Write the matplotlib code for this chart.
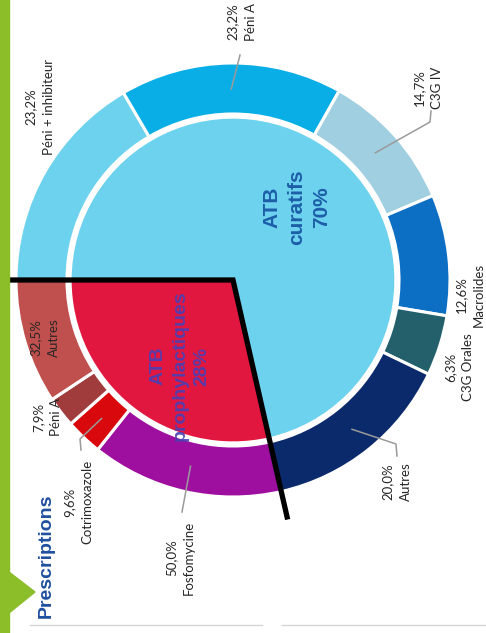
import matplotlib.pyplot as plt
from matplotlib.patches import Polygon
import numpy as np

# inner pie: the two kinds of prescriptions
group_labels = ['ATB\ncuratifs\n70%', 'ATB\nprophylactiques\n28%']
group_pct = [70, 28]
group_colors = ['#6dd2ee', '#e2173f']
group_text_colors = ['#1d5ea8', '#4a3fb4']

# outer ring, curative antibiotics (% of curative)
cur_names = ['Péni + inhibiteur', 'Péni A', 'C3G IV', 'Macrolides', 'C3G Orales', 'Autres']
cur_pct = [23.2, 23.2, 14.7, 12.6, 6.3, 20.0]
cur_colors = ['#6dd2ee', '#0aaee6', '#9fcfe0', '#0d6fc4', '#23606c', '#0b2a6c']

# outer ring, prophylactic antibiotics (% of prophylactic)
pro_names = ['Fosfomycine', 'Cotrimoxazole', 'Péni A', 'Autres']
pro_pct = [50.0, 9.6, 7.9, 32.5]
pro_colors = ['#9e0fa0', '#d8080c', '#a03c3c', '#c0504d']

green = '#8cbe2a'
center = (233, 280)
R = 217


def fmt(v):
    return f'{v:.1f}'.replace('.', ',') + '%'


fig = plt.figure(figsize=(4.86, 6.33), dpi=100)
ax = fig.add_axes([0, 0, 1, 1])

# inner pie
ax.pie(group_pct, colors=group_colors, radius=0.75 * R, center=center,
       startangle=180, counterclock=True, frame=True,
       wedgeprops=dict(edgecolor='white', linewidth=2))

# outer ring, sub shares scaled by the group share
ring_vals = [p * group_pct[0] / 100 for p in cur_pct] + [p * group_pct[1] / 100 for p in pro_pct]
ring_wedges, _ = ax.pie(ring_vals, colors=cur_colors + pro_colors, radius=R, center=center,
                        startangle=180, counterclock=True, frame=True,
                        wedgeprops=dict(width=0.235 * R, edgecolor='white', linewidth=2.2))

ax.set_xlim(0, 486)
ax.set_ylim(633, 0)
ax.axis('off')

# black separator between curative and prophylactic
split = np.deg2rad(180 + 360 * group_pct[0] / sum(group_pct))
xs = [center[0] - 1.04 * R, center[0], center[0] + 1.12 * R * np.cos(split)]
ys = [center[1], center[1], center[1] + 1.12 * R * np.sin(split)]
ax.plot(xs, ys, color='black', lw=3.8, solid_joinstyle='miter', zorder=5)

# group titles in the inner pie
ax.text(297, 207, group_labels[0], rotation=90, ha='center', va='center',
        multialignment='center', fontsize=15, fontweight='bold', linespacing=1.4,
        color=group_text_colors[0], family='Liberation Sans', zorder=6)
ax.text(180, 366, group_labels[1], rotation=90, ha='center', va='center',
        multialignment='center', fontsize=14, fontweight='bold', linespacing=1.35,
        color=group_text_colors[1], alpha=0.9, family='Liberation Sans', zorder=6)

# ring labels: text centre and leader points on the text side
names = cur_names + pro_names
pcts = cur_pct + pro_pct
label_xy = [(40, 107), (242, 22), (428, 88), (470, 295), (459, 367), (397, 482),
            (180, 558), (78, 502), (47, 417), (45, 338)]
leaders = {1: [(240, 55)], 2: [(431, 111), (430, 122)], 5: [(397, 456), (396, 444)],
           6: [(182, 512)], 7: [(81, 450), (80, 439)]}

for i, (name, p) in enumerate(zip(names, pcts)):
    ax.text(label_xy[i][0], label_xy[i][1], fmt(p) + '\n' + name, rotation=90,
            ha='center', va='center', multialignment='center', fontsize=9.5,
            linespacing=1.6, color='#262626', family='Lato', zorder=6)
    if i in leaders:
        w = ring_wedges[i]
        mid = np.deg2rad((w.theta1 + w.theta2) / 2)
        end = (center[0] + 0.88 * R * np.cos(mid), center[1] + 0.88 * R * np.sin(mid))
        pts = leaders[i] + [end]
        ax.plot([q[0] for q in pts], [q[1] for q in pts], color='#9a9a9a', lw=1.1, zorder=6)

# slide decoration
ax.add_patch(plt.Rectangle((0, 0), 9, 633, color=green, zorder=7))
ax.add_patch(Polygon([(9, 572), (35, 592), (9, 613)], closed=True, color=green, zorder=7))
ax.text(46, 556, 'Prescriptions', rotation=90, ha='center', va='center', fontsize=14,
        fontweight='bold', color='#1f4f9e', family=['Liberation Sans Narrow', 'Liberation Sans'])
ax.plot([30, 262], [625, 625], color='#d6d6d6', lw=1)
ax.plot([282, 486], [625, 625], color='#d6d6d6', lw=1)

fig.savefig('out.png', dpi=100)
